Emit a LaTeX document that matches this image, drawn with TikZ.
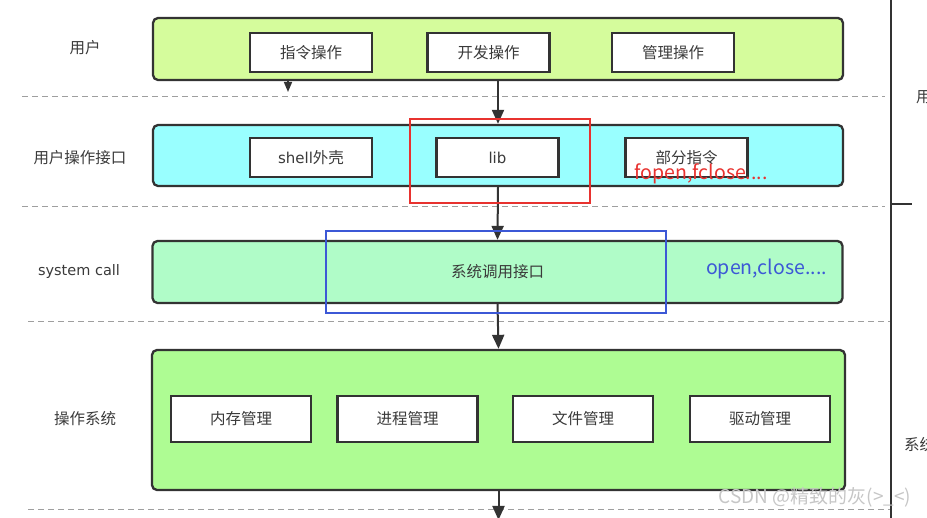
\documentclass[tikz,border=0pt]{standalone}
\usepackage{fontspec}
\setmainfont{Noto Sans CJK SC}
\newfontfamily\latinfont{DejaVu Sans}
\usetikzlibrary{arrows.meta}

\definecolor{edgegray}{HTML}{333333}
\definecolor{textgray}{HTML}{3A3A3A}
\definecolor{usercol}{HTML}{D5FC9C}
\definecolor{ifacecol}{HTML}{99FFFF}
\definecolor{syscol}{HTML}{B0FCC8}
\definecolor{oscol}{HTML}{AEFC93}
\definecolor{markred}{HTML}{E8322F}
\definecolor{markblue}{HTML}{3C58D6}

\begin{document}
\begin{tikzpicture}[x=1pt, y=-1pt,
    font=\fontsize{15.5}{18}\selectfont,
    layer/.style={draw=edgegray, line width=2.3pt, rounded corners=5pt,
        minimum width=690pt, inner sep=0pt, text=textgray},
    item/.style={draw=edgegray, line width=2.1pt, fill=white,
        minimum width=122pt, minimum height=39pt, inner sep=0pt, text=textgray},
    ositem/.style={item, minimum width=140pt, minimum height=46pt},
    rowlabel/.style={text=textgray},
    mark/.style={draw=#1, line width=2.4pt, inner sep=0pt},
    arr/.style={draw=edgegray, line width=2pt, -{Triangle[length=14pt,width=12pt]}},
    stubarr/.style={draw=edgegray, line width=1.5pt, -{Triangle[length=10pt,width=8pt]}},
    sep/.style={draw=gray!75, line width=1pt, dash pattern=on 6pt off 4pt}]

    \useasboundingbox (0,0) rectangle (927,518);
    \clip (0,0) rectangle (927,518);

    % separators
    \draw[sep] (22,97) -- (885,97);
    \draw[sep] (22,207) -- (885,207);
    \draw[sep] (28,322) -- (890,322);
    \draw[sep] (28,510) -- (890,510);

    % user
    \node[rowlabel] (userlbl) at (85,48) {用户};
    \node[layer, fill=usercol, minimum height=62pt] (user) at (498,49) {};
    \node[item] (cmd) at (311,52.5) {指令操作};
    \node[item] (dev) at (488.5,52.5) {开发操作};
    \node[item] (mgmt) at (673,52.5) {管理操作};

    % user interface
    \node[rowlabel] (ifacelbl) at (80,158) {用户操作接口};
    \node[layer, fill=ifacecol, minimum height=61pt] (iface) at (498,155.5) {};
    \node[item] (shell) at (311,157.5) {{\latinfont\fontsize{15}{18}\selectfont shell}外壳};
    \node[item, font=\latinfont\fontsize{15}{18}\selectfont] (lib) at (497.5,157.5) {lib};
    \node[item] (part) at (686.5,157.5) {部分指令};

    % system call
    \node[rowlabel, font=\latinfont\fontsize{14.5}{18}\selectfont] (syslbl) at (79,272) {system call};
    \node[layer, fill=syscol, minimum height=62pt] (sys) at (497.5,272) {系统调用接口};

    % operating system
    \node[rowlabel] (oslbl) at (85,419) {操作系统};
    \node[layer, fill=oscol, minimum width=693pt, minimum height=140pt] (os) at (498.5,420) {};
    \node[ositem] (mem) at (241,419) {内存管理};
    \node[ositem] (proc) at (407.5,419) {进程管理};
    \node[ositem] (file) at (583,419) {文件管理};
    \node[ositem] (drv) at (760,419) {驱动管理};

    % arrows
    \coordinate (stub) at (288,92);
    \coordinate (out) at (498.5,520);
    \draw[stubarr] (user.south -| stub) -- (stub);
    \draw[arr] (user.south) -- (iface.north);
    \draw[arr] (iface.south) -- (sys.north);
    \draw[arr] (sys.south) -- (os.north);
    \draw[arr] (os.south) -- (out);

    % marks
    \node[mark=markred, minimum width=180pt, minimum height=84pt] (libmark) at (500,161) {};
    \node[text=markred, font=\fontsize{19.5}{22}\selectfont] (libcalls) at (701,174) {fopen,fclose....};
    \node[mark=markblue, minimum width=340pt, minimum height=82pt] (sysmark) at (496,272) {};
    \node[text=markblue, font=\fontsize{19.5}{22}\selectfont] (syscalls) at (766.5,269) {open,close....};

    % right side
    \draw[edgegray, line width=2pt] (891,0) -- (891,518);
    \draw[edgegray, line width=2pt] (891,204) -- (912,204);
    \node[rowlabel, anchor=west, inner sep=0pt] (userspace) at (916,97) {用};
    \node[rowlabel, anchor=west, inner sep=0pt] (kernel) at (904,445) {系统};

    % watermark
    \node[text=gray!45, font=\fontsize{19}{22}\selectfont] (wm) at (815,497) {CSDN @精致的灰(>\_<)};
\end{tikzpicture}
\end{document}
